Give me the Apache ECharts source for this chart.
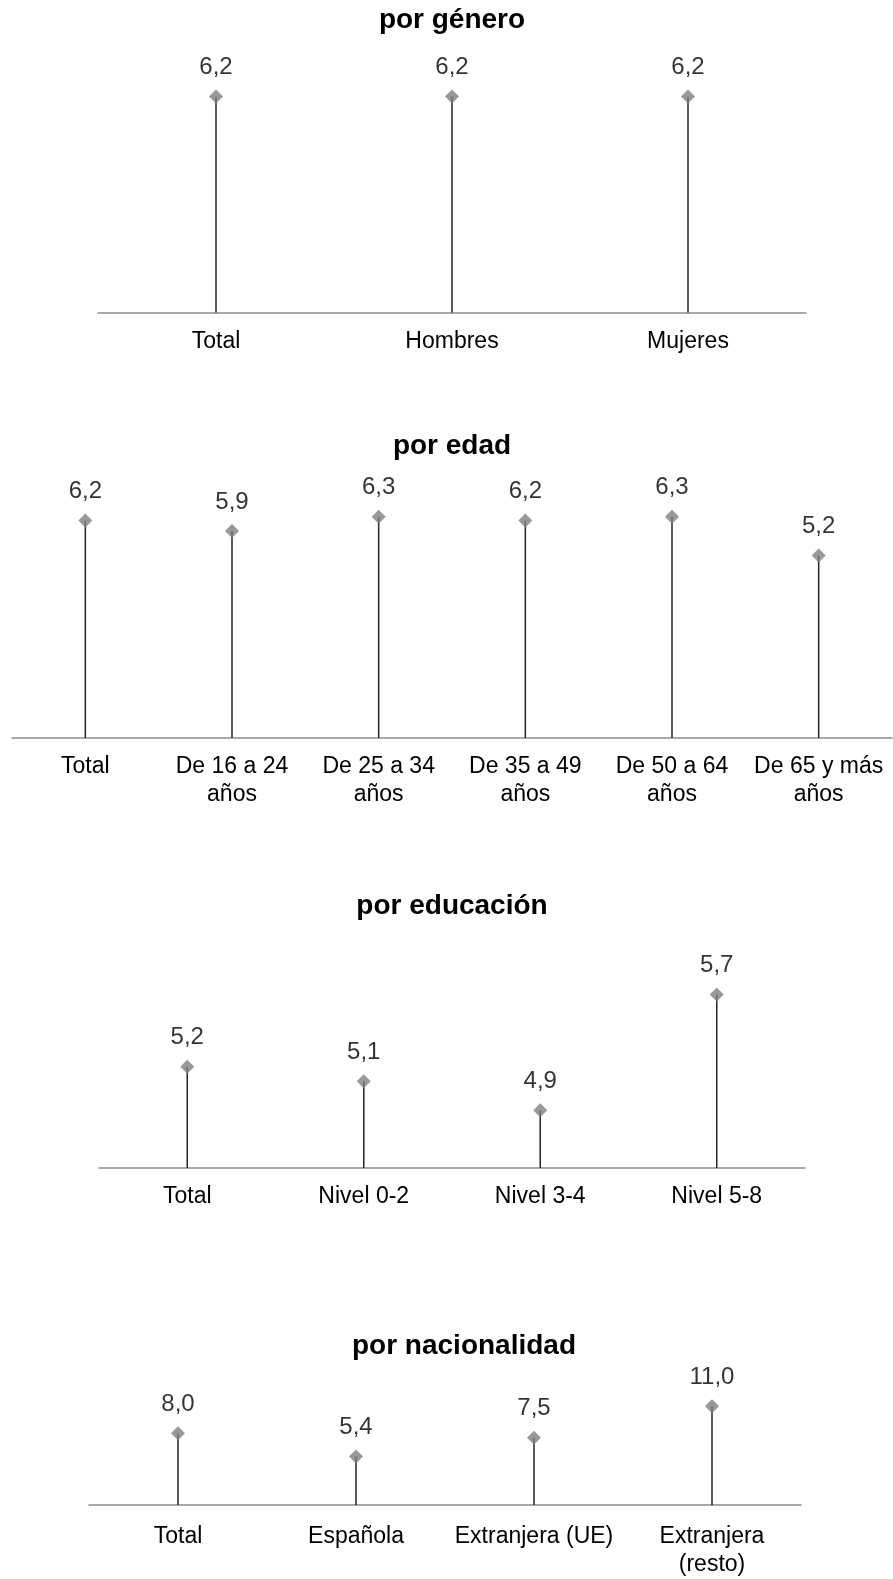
<!DOCTYPE html>
<html><head><meta charset="utf-8">
<script src="https://cdn.jsdelivr.net/npm/echarts@6/dist/echarts.min.js"></script>
<style>html,body{margin:0;padding:0;background:#fff}#c{width:893px;height:1579px}</style>
</head><body><div id="c"></div>
<script>
// ---- data ----
const generoTitle = 'por género';
const generoCats = ['Total', 'Hombres', 'Mujeres'];
const generoVals = [6.2, 6.2, 6.2];

const edadTitle = 'por edad';
const edadCats = ['Total', 'De 16 a 24\naños', 'De 25 a 34\naños', 'De 35 a 49\naños', 'De 50 a 64\naños', 'De 65 y más\naños'];
const edadVals = [6.2, 5.9, 6.3, 6.2, 6.3, 5.2];

const educacionTitle = 'por educación';
const educacionCats = ['Total', 'Nivel 0-2', 'Nivel 3-4', 'Nivel 5-8'];
const educacionVals = [5.2, 5.1, 4.9, 5.7];

const nacionalidadTitle = 'por nacionalidad';
const nacionalidadCats = ['Total', 'Española', 'Extranjera (UE)', 'Extranjera\n(resto)'];
const nacionalidadVals = [8.0, 5.4, 7.5, 11.0];

// ---- layout (positions / styles) ----
const FONT = '"Liberation Sans", Arial, sans-serif';
const panels = [
  {title: generoTitle, cats: generoCats, vals: generoVals, left: 98, width: 708, top: 33.8, height: 278.7, min: 0, max: 8, titleX: 452, titleY: 6, margin: 15},
  {title: edadTitle, cats: edadCats, vals: edadVals, left: 12, width: 880, top: 492.3, height: 245.7, min: 0, max: 7, titleX: 452, titleY: 432, margin: 15},
  {title: educacionTitle, cats: educacionCats, vals: educacionVals, left: 99, width: 706, top: 951, height: 217, min: 4.5, max: 6, titleX: 452, titleY: 892, margin: 15},
  {title: nacionalidadTitle, cats: nacionalidadCats, vals: nacionalidadVals, left: 89, width: 712, top: 1397.4, height: 113.6, min: 0, max: 12, titleX: 464, titleY: 1332, margin: 18}
];

const fmt = v => v.toFixed(1).replace('.', ',');

const option = {
  animation: false,
  backgroundColor: '#ffffff',
  title: panels.map(p => ({
    text: p.title, left: p.titleX, top: p.titleY, textAlign: 'center', padding: 0,
    textStyle: {fontFamily: FONT, fontWeight: 'bold', fontSize: 28, lineHeight: 28, color: '#000'}
  })),
  grid: panels.map(p => ({left: p.left, width: p.width, top: p.top, height: p.height, containLabel: false})),
  xAxis: panels.map((p, i) => ({
    type: 'category', gridIndex: i, data: p.cats,
    axisLine: {show: true, lineStyle: {color: '#8c8c8c', width: 1.5}},
    axisTick: {show: false},
    axisLabel: {fontFamily: FONT, fontSize: 23, color: '#000', margin: p.margin, lineHeight: 28, interval: 0},
    splitLine: {show: false}
  })),
  yAxis: panels.map((p, i) => ({
    type: 'value', gridIndex: i, min: p.min, max: p.max, show: false, splitLine: {show: false}
  })),
  series: []
};

panels.forEach((p, i) => {
  const pts = p.vals.map((v, k) => [k, v]);
  option.series.push({
    type: 'custom', xAxisIndex: i, yAxisIndex: i, data: pts, z: 2,
    encode: {x: 0, y: 1},
    renderItem: (params, api) => {
      const top = api.coord([api.value(0), api.value(1)]);
      const base = api.coord([api.value(0), p.min]);
      return {type: 'line', shape: {x1: top[0], y1: base[1], x2: top[0], y2: top[1]},
        style: {stroke: '#262626', lineWidth: 1.5}};
    }
  });
  option.series.push({
    type: 'scatter', xAxisIndex: i, yAxisIndex: i, data: pts, z: 3,
    symbol: 'diamond', symbolSize: 14,
    itemStyle: {color: '#808080'},
    label: {show: true, position: 'top', distance: 10, fontFamily: FONT, fontSize: 24, color: '#000',
      formatter: d => fmt(d.value[1])}
  });
});

const chart = echarts.init(document.getElementById('c'), null, {renderer: 'canvas'});
chart.setOption(option);
</script></body></html>
